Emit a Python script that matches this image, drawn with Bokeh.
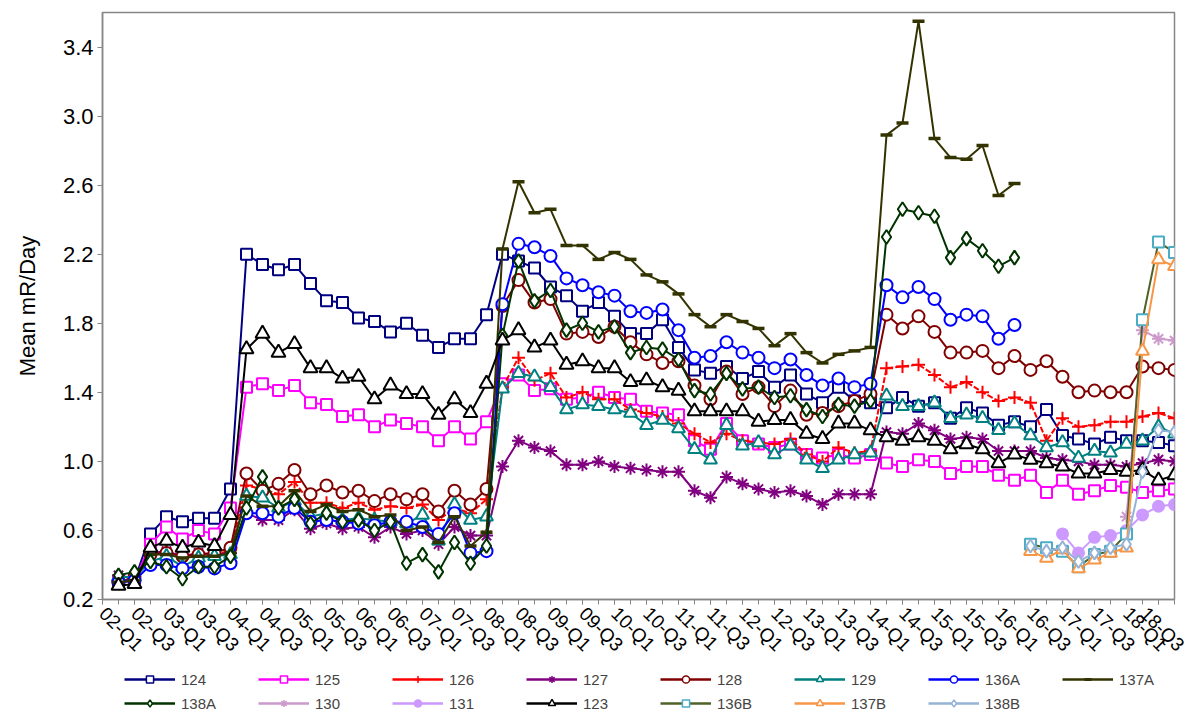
from bokeh.plotting import figure
from bokeh.layouts import column
from bokeh.models import Range1d, FixedTicker, Legend, LegendItem, PrintfTickFormatter
from bokeh.embed import file_html
from bokeh.resources import INLINE
import math

# Quarter labels on the category axis (position 0 = 02-Q1)
quarters = [f"{y:02d}-Q{q}" for y in range(2, 19) for q in range(1, 5)]  # 68 positions
label_positions = list(range(0, 67, 2))
y_ticks = [0.2, 0.6, 1.0, 1.4, 1.8, 2.2, 2.6, 3.0, 3.4]

# ---- series values (mean mR/day) ----
v124 = [0.30, 0.31, 0.58, 0.68, 0.65, 0.67, 0.67, 0.84,
        2.20, 2.14, 2.11, 2.14, 2.03, 1.93, 1.92, 1.83, 1.81, 1.75, 1.80, 1.73, 1.66, 1.71, 1.71, 1.85,
        2.20, 2.16, 2.12, 2.01, 1.96, 1.87, 1.92, 1.84, 1.74, 1.74, 1.82, 1.66, 1.53, 1.51, 1.55, 1.48,
        1.52, 1.43, 1.50, 1.39, 1.34, 1.43, 1.35, 1.34,
        1.31, 1.37, 1.32, 1.34, 1.25, 1.31, 1.28, 1.21, 1.23, 1.20, 1.30, 1.15, 1.13, 1.10, 1.14, 1.12,
        1.12, 1.11, 1.09]
v125 = [0.30, 0.31, 0.52, 0.62, 0.55, 0.60, 0.58, 0.73,
        1.43, 1.45, 1.41, 1.44, 1.34, 1.33, 1.26, 1.27, 1.20, 1.24, 1.22, 1.20, 1.12, 1.20, 1.13, 1.23,
        1.45, 1.50, 1.41, 1.42, 1.36, 1.37, 1.40, 1.37, 1.36, 1.29, 1.28, 1.27, 1.12, 1.07, 1.22, 1.12,
        1.10, 1.08, 1.10, 1.04, 1.02, 1.04, 1.02, 1.04,
        0.99, 0.97, 1.01, 1.00, 0.93, 0.97, 0.97, 0.92, 0.89, 0.92, 0.82, 0.89, 0.81, 0.83, 0.86, 0.85,
        0.82, 0.83, 0.84]
v126 = [0.30, 0.32, 0.47, 0.47, 0.44, 0.46, 0.45, 0.49,
        0.86, 0.84, 0.81, 0.88, 0.76, 0.76, 0.73, 0.76, 0.72, 0.74, 0.73, 0.75, 0.66, 0.73, 0.70, 0.78,
        1.43, 1.60, 1.47, 1.51, 1.37, 1.40, 1.36, 1.36, 1.30, 1.28, 1.26, 1.22, 1.16, 1.11, 1.16, 1.12,
        1.11, 1.10, 1.13, 1.04, 1.00, 1.08, 1.05, 1.06,
        1.54, 1.55, 1.56, 1.50, 1.43, 1.46, 1.40, 1.35, 1.37, 1.34, 1.12, 1.25, 1.20, 1.21, 1.23, 1.23,
        1.26, 1.28, 1.25]
v127 = [0.34, 0.32, 0.47, 0.48, 0.45, 0.47, 0.46, 0.47,
        0.70, 0.66, 0.66, 0.72, 0.61, 0.64, 0.61, 0.62, 0.56, 0.62, 0.58, 0.60, 0.52, 0.62, 0.57, 0.57,
        0.97, 1.12, 1.08, 1.06, 0.98, 0.98, 1.00, 0.97, 0.96, 0.95, 0.94, 0.94, 0.83, 0.79, 0.91, 0.87,
        0.84, 0.82, 0.83, 0.80, 0.75, 0.81, 0.81, 0.81,
        1.17, 1.16, 1.22, 1.18, 1.13, 1.14, 1.13, 1.06, 1.06, 1.06, 1.02, 1.01, 1.00, 0.98, 0.98, 0.97,
        0.99, 1.01, 1.00]
v128 = [0.30, 0.33, 0.46, 0.47, 0.45, 0.46, 0.47, 0.50,
        0.93, 0.83, 0.87, 0.95, 0.81, 0.86, 0.82, 0.83, 0.77, 0.81, 0.78, 0.81, 0.71, 0.83, 0.75, 0.84,
        1.90, 2.05, 1.92, 1.94, 1.74, 1.75, 1.72, 1.78, 1.69, 1.62, 1.57, 1.58, 1.44, 1.36, 1.52, 1.39,
        1.43, 1.32, 1.41, 1.27, 1.28, 1.32, 1.35, 1.39,
        1.85, 1.77, 1.84, 1.75, 1.63, 1.63, 1.64, 1.54, 1.61, 1.53, 1.58, 1.49, 1.40, 1.41, 1.40, 1.40,
        1.55, 1.54, 1.53]
v129 = [0.33, 0.33, 0.42, 0.45, 0.39, 0.44, 0.45, 0.46,
        0.80, 0.79, 0.73, 0.77, 0.68, 0.70, 0.66, 0.67, 0.66, 0.65, 0.64, 0.69, 0.54, 0.75, 0.66, 0.68,
        1.42, 1.51, 1.49, 1.43, 1.30, 1.33, 1.32, 1.30, 1.28, 1.21, 1.24, 1.19, 1.07, 1.01, 1.21, 1.09,
        1.11, 1.04, 1.09, 1.01, 0.96, 1.01, 1.04, 1.05,
        1.38, 1.32, 1.32, 1.34, 1.25, 1.27, 1.25, 1.18, 1.22, 1.15, 1.08, 1.11, 1.02, 1.06, 1.05, 1.10,
        1.12, 1.20, 1.16]
v136A = [0.30, 0.31, 0.40, 0.40, 0.38, 0.39, 0.38, 0.41,
         0.70, 0.70, 0.68, 0.73, 0.65, 0.66, 0.65, 0.64, 0.63, 0.65, 0.65, 0.62, 0.58, 0.70, 0.47, 0.48,
         1.91, 2.26, 2.24, 2.19, 2.06, 2.02, 1.98, 1.96, 1.87, 1.86, 1.88, 1.76, 1.60, 1.61, 1.69, 1.63,
         1.60, 1.54, 1.59, 1.50, 1.44, 1.48, 1.43, 1.45,
         2.02, 1.95, 2.01, 1.94, 1.82, 1.85, 1.84, 1.71, 1.79]
v137A = [0.30, 0.31, 0.46, 0.46, 0.44, 0.45, 0.45, 0.47,
         0.80, 0.74, 0.74, 0.83, 0.71, 0.75, 0.71, 0.72, 0.68, 0.69, 0.60, 0.62, 0.53, 0.68, 0.51, 0.59,
         2.23, 2.62, 2.44, 2.46, 2.25, 2.25, 2.17, 2.21, 2.17, 2.08, 2.04, 1.97, 1.85, 1.78, 1.85, 1.81,
         1.77, 1.67, 1.74, 1.63, 1.57, 1.62, 1.64, 1.66,
         2.89, 2.96, 3.55, 2.87, 2.76, 2.75, 2.83, 2.54, 2.61]
v138A = [0.34, 0.36, 0.42, 0.39, 0.32, 0.39, 0.39, 0.45,
         0.73, 0.91, 0.73, 0.78, 0.64, 0.70, 0.65, 0.66, 0.60, 0.65, 0.41, 0.46, 0.36, 0.53, 0.41, 0.51,
         1.73, 2.16, 1.93, 1.99, 1.76, 1.80, 1.75, 1.78, 1.63, 1.66, 1.65, 1.59, 1.41, 1.39, 1.51, 1.42,
         1.43, 1.37, 1.38, 1.30, 1.26, 1.33, 1.32, 1.35,
         2.30, 2.46, 2.44, 2.42, 2.18, 2.29, 2.22, 2.13, 2.18]
v130 = [0.68, 1.76, 1.71, 1.70]
v131 = [0.58, 0.47, 0.56, 0.57, 0.60, 0.69, 0.74, 0.75]
v123 = [0.28, 0.29, 0.50, 0.54, 0.50, 0.53, 0.51, 0.69,
        1.65, 1.74, 1.63, 1.68, 1.54, 1.54, 1.48, 1.49, 1.36, 1.44, 1.39, 1.39, 1.27, 1.36, 1.28, 1.45,
        1.70, 1.76, 1.66, 1.70, 1.56, 1.58, 1.54, 1.54, 1.46, 1.47, 1.43, 1.41, 1.29, 1.29, 1.29, 1.29,
        1.23, 1.24, 1.24, 1.16, 1.13, 1.22, 1.22, 1.18,
        1.14, 1.12, 1.14, 1.12, 1.07, 1.10, 1.07, 0.99, 1.04, 1.01, 0.99, 0.97, 0.93, 0.93, 0.95, 0.94,
        0.95, 0.89, 0.92]
v136B = [0.52, 0.50, 0.48, 0.39, 0.46, 0.48, 0.58, 1.82, 2.27, 2.21]
v137B = [0.48, 0.44, 0.49, 0.38, 0.43, 0.47, 0.50, 1.64, 2.17, 2.13]
v138B = [0.51, 0.48, 0.50, 0.42, 0.47, 0.50, 0.52, 0.94, 1.18, 1.17]

# first quarter of each series (as label)
start = {"124": "02-Q2", "125": "02-Q2", "126": "02-Q2", "127": "02-Q2", "128": "02-Q2",
         "129": "02-Q2", "136A": "02-Q2", "137A": "02-Q2", "138A": "02-Q2", "130": "18-Q1",
         "131": "17-Q1", "123": "02-Q2", "136B": "16-Q3", "137B": "16-Q3", "138B": "16-Q3"}
values = {"124": v124, "125": v125, "126": v126, "127": v127, "128": v128, "129": v129,
          "136A": v136A, "137A": v137A, "138A": v138A, "130": v130, "131": v131, "123": v123,
          "136B": v136B, "137B": v137B, "138B": v138B}

# style: line colour, marker, marker outline, fill, size, dash
style = {
    "124": ("#000080", "square", "#000080", "white", 11, "solid"),
    "125": ("#FF00FF", "square", "#FF00FF", "white", 11, "solid"),
    "126": ("#FF0000", "cross", "#FF0000", None, 13, "6 2"),
    "127": ("#800080", "asterisk", "#800080", None, 13, "solid"),
    "128": ("#800000", "circle", "#800000", "white", 12, "solid"),
    "129": ("#008080", "triangle", "#008080", "white", 13, "solid"),
    "136A": ("#0000FF", "circle", "#0000FF", "white", 12, "solid"),
    "137A": ("#333300", "dash", "#333300", None, 12, "solid"),
    "138A": ("#003300", "diamond", "#003300", "white", 14, "solid"),
    "130": ("#CC99CC", "asterisk", "#CC99CC", None, 13, "solid"),
    "131": ("#CC99FF", "circle", "#CC99FF", "#CC99FF", 11, "solid"),
    "123": ("#000000", "triangle", "#000000", "white", 14, "solid"),
    "136B": ("#4F6228", "square", "#4BACC6", "white", 11, "solid"),
    "137B": ("#F79646", "triangle", "#F79646", "white", 13, "solid"),
    "138B": ("#95B3D7", "diamond", "#95B3D7", "white", 13, "solid"),
}
order = ["124", "125", "126", "127", "128", "129", "136A", "137A",
         "138A", "130", "131", "123", "136B", "137B", "138B"]

FONT = "Liberation Sans"
W = 1188
H_MAIN = 670
H_LEG = 42

p = figure(width=W, height=H_MAIN, output_backend="svg", toolbar_location=None,
           x_range=Range1d(0, 67), y_range=Range1d(0.2, 3.6),
           min_border_left=102, min_border_right=14, min_border_top=12,
           min_border_bottom=H_MAIN - 599)
p.xgrid.visible = False
p.ygrid.visible = False
p.outline_line_color = "#868686"
p.outline_line_width = 1.5
p.background_fill_color = "white"

# legend-only figure under the chart (its frame is aligned with the chart's frame)
lg = figure(width=W, height=H_LEG, output_backend="svg", toolbar_location=None,
            x_range=Range1d(0, 1), y_range=Range1d(0, 1),
            min_border_left=0, min_border_right=0, min_border_top=0, min_border_bottom=0,
            x_axis_location=None, y_axis_location=None)
lg.xgrid.visible = False
lg.ygrid.visible = False
lg.outline_line_color = None

items = []
for name in order:
    vals = values[name]
    s = quarters.index(start[name])
    xs = list(range(s, s + len(vals)))
    lc, mk, mlc, fc, sz, dash = style[name]
    lw = 3.5 if mk == "dash" else 2
    p.line(xs, vals, line_color=lc, line_width=2, line_dash=dash)
    p.scatter(xs, vals, marker=mk, size=sz, line_color=mlc, line_width=lw, fill_color=fc)
    # legend swatch renderers, placed outside the legend figure's visible range
    lr = lg.line([-5, -4], [-5, -5], line_color=lc, line_width=2.5)
    sr = lg.scatter([-5], [-5], marker=mk, size=8, line_color=mlc,
                    line_width=1.5 if mk != "dash" else 3, fill_color=fc)
    items.append(LegendItem(label=name, renderers=[lr, sr]))

# x axis
xa = p.xaxis[0]
xa.ticker = FixedTicker(ticks=label_positions, minor_ticks=list(range(0, 68)))
xa.major_label_overrides = {i: quarters[i] for i in label_positions}
xa.major_label_orientation = -math.pi / 4
xa.major_label_text_font = FONT
xa.major_label_text_font_size = "19px"
xa.major_label_text_color = "black"
xa.major_label_standoff = 6
xa.axis_line_color = "#868686"
xa.axis_line_width = 1.5
xa.major_tick_line_color = "#868686"
xa.minor_tick_line_color = "#868686"
xa.major_tick_in = 0
xa.major_tick_out = 5
xa.minor_tick_in = 0
xa.minor_tick_out = 5

# y axis
ya = p.yaxis[0]
ya.ticker = FixedTicker(ticks=y_ticks)
ya.formatter = PrintfTickFormatter(format="%.1f")
ya.major_label_text_font = FONT
ya.major_label_text_font_size = "22px"
ya.major_label_text_color = "black"
ya.major_label_standoff = 4
ya.axis_line_color = "#868686"
ya.axis_line_width = 1.5
ya.major_tick_line_color = "#868686"
ya.major_tick_in = 0
ya.major_tick_out = 5
ya.minor_tick_line_color = None
ya.axis_label = "Mean mR/Day"
ya.axis_label_text_font = FONT
ya.axis_label_text_font_size = "22px"
ya.axis_label_text_font_style = "normal"
ya.axis_label_text_color = "black"
ya.axis_label_standoff = 20

legend = Legend(items=items, location=(22, 0), orientation="horizontal", ncols=8,
                glyph_width=51, glyph_height=18, label_height=18, label_width=71,
                label_standoff=6, spacing=6, padding=0, margin=0,
                label_text_font=FONT, label_text_font_size="15px",
                border_line_color=None, background_fill_alpha=0)
lg.add_layout(legend)

layout = column(p, lg, spacing=0)
open("out.html", "w").write(file_html(layout, INLINE))
